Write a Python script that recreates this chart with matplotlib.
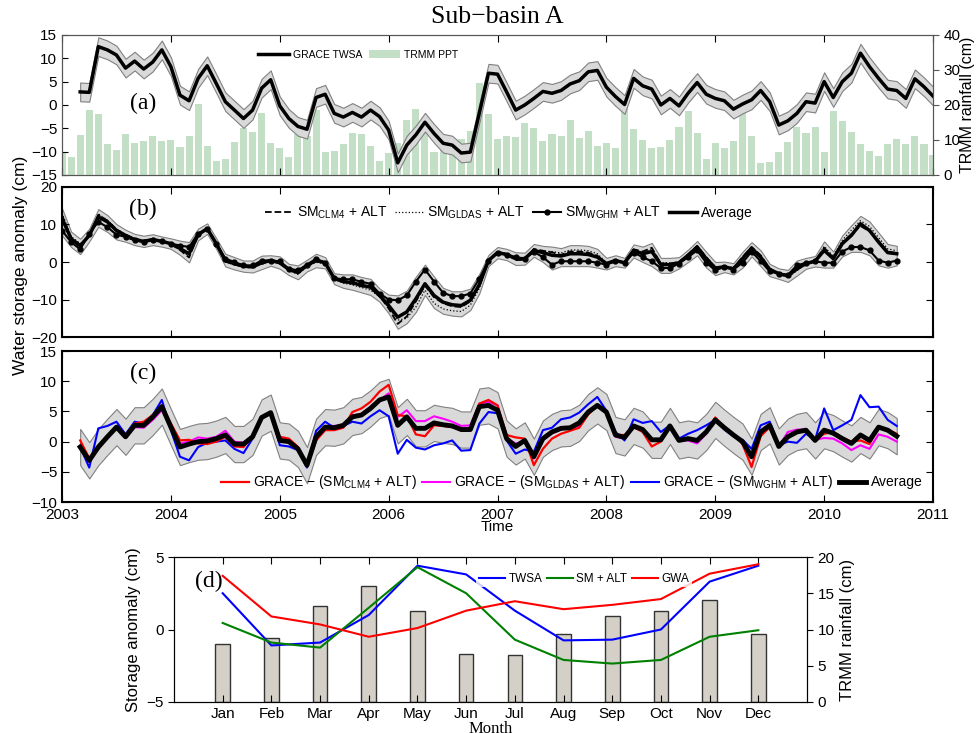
import numpy as np
import matplotlib.pyplot as plt

plt.rcParams['font.family'] = ['Liberation Sans', 'DejaVu Sans']
plt.rcParams['mathtext.fontset'] = 'custom'
plt.rcParams['mathtext.rm'] = 'Liberation Sans'
plt.rcParams['mathtext.it'] = 'Liberation Sans:italic'
plt.rcParams['mathtext.bf'] = 'Liberation Sans:bold'
plt.rcParams['xtick.direction'] = 'in'
plt.rcParams['ytick.direction'] = 'in'
plt.rcParams['xtick.labelsize'] = 11
plt.rcParams['ytick.labelsize'] = 11

SERIF = 'Liberation Serif'

# ---------------- data ----------------
# month index 0 = Jan 2003
grace_start = 2
grace_twsa = [
    2.8, 2.7, 12.5, 11.8, 10.7, 7.9, 9.4, 7.7, 9.2, 11.8,
    8.2, 2.1, 0.9, 5.7, 8.4, 4.6, 0.7, -1.1, -2.9, -1.1,
    3.6, 5.4, -0.2, -2.9, -4.6, -5.2, 1.6, 2.3, -1.8, -2.6,
    -1.6, -2.6, -1.1, -2.5, -5.4, -12.4, -8.6, -6.4, -3.7, -6.1,
    -8.2, -8.6, -10.3, -10.1, -1.7, 6.8, 6.6, 2.8, -1.1, 0.0,
    1.4, 2.9, 2.5, 3.1, 4.5, 5.2, 7.1, 7.4, 3.8, 1.8,
    0.1, 5.7, 4.1, 3.4, 0.0, 1.4, -0.2, 2.5, 4.8, 2.3,
    1.4, 0.9, -0.9, 0.2, 1.1, 3.1, 0.7, -4.3, -3.4, -1.8,
    0.7, 0.4, 5.0, 1.6, 5.0, 6.8, 11.1, 8.2, 5.7, 3.4,
    3.1, 1.4, 5.6, 3.9, 1.9]
grace_err = 2.0

trmm_start = 0
trmm_ppt = [
    6.4, 5.2, 11.4, 18.6, 17.3, 8.9, 7.1, 11.7, 9.0, 9.7,
    11.1, 9.7, 10.0, 8.0, 11.0, 20.3, 8.4, 4.0, 4.5, 9.5,
    13.5, 12.2, 17.7, 9.2, 7.7, 5.2, 11.6, 11.0, 18.6, 6.7,
    6.9, 8.9, 12.1, 11.7, 8.4, 4.0, 6.2, 9.0, 15.7, 18.8,
    14.0, 6.6, 7.6, 8.0, 10.2, 12.6, 26.4, 17.4, 10.3, 11.0,
    10.8, 14.8, 13.5, 9.7, 11.7, 11.0, 15.7, 10.7, 12.6, 8.4,
    9.0, 7.7, 19.7, 13.1, 10.0, 7.8, 7.9, 10.0, 13.7, 18.3,
    12.1, 4.7, 9.0, 7.8, 9.7, 17.6, 11.0, 3.3, 3.7, 6.5,
    9.4, 13.7, 12.0, 13.8, 6.6, 18.3, 15.5, 12.2, 8.9, 6.9,
    5.4, 8.8, 10.2, 8.9, 11.1, 8.9, 5.7]

sm_start = 0
sm_clm4 = [
    12.5, 6.5, 4.6, 6.9, 12.6, 11.0, 8.7, 7.2, 6.2, 5.7,
    6.1, 5.5, 4.8, 3.2, 1.2, 7.2, 9.0, 4.8, 0.1, -0.7,
    -1.3, -1.5, -0.3, 0.5, -0.3, -2.0, -2.9, -0.8, 0.4, 0.0,
    -4.4, -5.4, -5.8, -6.5, -6.8, -9.0, -12.4, -16.5, -14.5, -10.5,
    -6.3, -9.4, -11.0, -11.8, -12.0, -10.5, -6.3, 0.6, 2.7, 2.2,
    0.5, 0.6, 3.5, 3.0, 2.6, 1.9, 2.8, 2.8, 2.5, 1.7,
    -0.3, 0.5, -0.2, 3.4, 2.8, 3.8, -0.4, -0.4, 0.0, 2.0,
    4.3, 1.3, -1.4, -1.2, -1.6, 1.3, 4.0, 1.8, -1.8, -3.0,
    -3.6, -2.1, -0.5, 0.3, 3.8, 1.2, 5.2, 7.4, 9.6, 8.2,
    5.6, 2.8, 2.4]
sm_gldas = [
    13.0, 6.8, 4.9, 6.8, 12.8, 11.2, 8.8, 7.3, 6.0, 5.5,
    6.0, 5.4, 5.0, 3.4, 1.5, 7.1, 8.8, 5.0, 0.2, -0.5,
    -1.1, -1.5, -0.6, 0.3, -0.5, -2.2, -3.3, -1.2, -0.1, -0.4,
    -4.6, -5.6, -6.1, -6.8, -7.5, -9.3, -12.2, -15.5, -15.0, -12.0,
    -7.5, -11.0, -12.5, -13.0, -13.2, -11.5, -7.0, 0.2, 2.3, 1.8,
    1.0, 1.2, 3.0, 2.8, 2.8, 2.4, 3.2, 3.2, 3.0, 2.2,
    -0.2, 0.5, -0.2, 3.3, 2.4, 3.5, -0.2, -0.2, -0.2, 2.0,
    4.3, 1.4, -1.3, -1.4, -1.8, 1.4, 4.0, 1.6, -1.8, -3.2,
    -4.0, -2.3, -0.5, 0.1, 4.2, 1.5, 5.8, 8.5, 11.0, 9.5,
    6.5, 3.5, 3.0]
sm_wghm = [
    8.4, 5.3, 3.4, 7.6, 10.7, 9.3, 7.3, 6.7, 5.8, 5.3,
    5.8, 5.5, 4.9, 4.4, 4.0, 7.6, 8.9, 4.9, 0.9, 0.0,
    -0.9, -0.9, 0.4, 0.4, 0.2, -1.8, -2.2, -0.7, 0.9, -0.2,
    -4.3, -4.6, -4.6, -5.3, -5.8, -8.4, -10.0, -10.2, -8.9, -5.2,
    -2.0, -5.2, -8.2, -9.1, -9.1, -8.4, -4.4, 0.4, 2.5, 2.0,
    1.3, 0.9, 2.7, 1.3, -0.7, 0.2, 0.2, 0.2, 0.2, -0.2,
    -0.7, 0.2, -0.2, 2.5, 1.3, 0.2, -1.6, -1.6, -0.4, 1.3,
    3.1, -0.2, -2.2, -1.3, -2.0, -0.2, 2.8, 0.2, -2.5, -3.1,
    -3.4, -0.9, -0.2, 0.2, -0.2, -0.2, 2.8, 4.0, 4.0, 3.1,
    0.4, -0.2, 0.4]
sm_avg = [
    11.6, 6.2, 4.3, 7.1, 12.0, 10.7, 8.4, 7.1, 6.0, 5.5,
    6.0, 5.5, 4.9, 3.6, 2.2, 7.3, 8.9, 4.9, 0.4, -0.4,
    -1.1, -1.3, -0.2, 0.4, -0.2, -2.0, -2.8, -0.9, 0.4, -0.2,
    -4.4, -5.2, -5.5, -6.2, -6.7, -8.9, -11.6, -14.7, -13.3, -9.8,
    -5.8, -8.9, -10.7, -11.4, -11.6, -10.2, -6.0, 0.4, 2.5, 2.0,
    0.9, 0.9, 3.1, 2.5, 1.8, 1.6, 2.2, 2.2, 2.0, 1.3,
    -0.4, 0.4, -0.2, 3.1, 2.2, 2.8, -0.7, -0.7, -0.2, 1.8,
    4.0, 0.9, -1.6, -1.3, -1.8, 0.9, 3.7, 1.3, -2.0, -3.1,
    -3.7, -1.8, -0.4, 0.2, 3.1, 0.9, 4.9, 7.1, 10.2, 8.4,
    5.3, 2.5, 2.2]

gw_start = 2
gw_clm4 = [
    0.2, -2.8, -1.2, 0.8, 2.6, 0.9, 3.0, 3.3, 4.4, 6.0,
    3.0, 0.2, 0.3, -0.3, -0.4, 0.0, 0.8, -0.8, -0.9, 0.9,
    4.0, 4.8, 0.8, 0.5, -0.9, -4.1, 0.2, 1.9, 1.9, 2.3,
    4.9, 5.5, 6.6, 8.3, 9.4, 4.4, 4.2, 1.2, 0.9, 2.7,
    2.6, 2.4, 2.0, 2.3, 6.3, 6.9, 6.0, 1.1, 0.7, 0.5,
    -3.9, -1.2, 0.5, 1.3, 1.8, 2.3, 4.5, 6.0, 5.1, 1.1,
    1.1, 2.4, 1.6, -0.8, 0.0, 2.7, 0.3, 0.5, 0.1, 1.6,
    4.0, 2.3, 1.2, -0.4, -4.2, 0.9, 2.4, -0.8, 0.8, 1.8,
    1.9, 0.3, 1.3, 1.6, 0.7, 0.0, 0.2, -0.4, 2.4, 2.0,
    1.3]
gw_gldas = [
    -0.6, -3.4, -0.9, 0.5, 2.3, 0.7, 2.4, 2.3, 3.6, 5.2,
    2.7, -0.3, 0.0, 0.7, 0.5, 0.8, 1.8, 0.0, -0.2, 0.8,
    3.8, 4.7, 0.5, 0.2, -0.9, -3.6, 0.9, 2.6, 2.6, 2.7,
    4.4, 4.5, 5.8, 6.9, 8.0, 4.1, 5.2, 3.4, 3.4, 4.2,
    3.8, 3.3, 2.6, 2.7, 6.3, 6.6, 6.0, 0.5, -0.3, 0.0,
    -2.8, 0.2, 1.4, 2.0, 2.3, 2.6, 4.8, 5.9, 4.9, 0.8,
    0.5, 2.3, 1.9, 0.2, 0.2, 2.6, 0.1, 0.2, -0.3, 1.3,
    3.6, 2.2, 0.9, 0.0, -2.4, 1.6, 2.7, -0.8, 1.6, 2.0,
    2.0, 0.3, 0.6, 0.5, -0.3, -1.4, -0.6, -1.2, 1.2, 0.8,
    0.0]
gw_wghm = [
    -0.9, -4.3, 2.2, 2.6, 3.3, 1.2, 3.3, 3.0, 4.4, 6.9,
    1.9, -2.5, -3.1, -0.9, -0.2, 0.0, 0.2, -1.2, -1.9, 0.5,
    4.0, 4.8, -0.6, -0.8, -1.4, -4.3, 1.8, 3.3, 2.3, 2.6,
    3.3, 3.0, 4.2, 5.2, 4.2, -2.0, 0.3, -1.0, -1.3, -0.6,
    -0.3, 0.2, -1.5, -1.4, 3.0, 4.9, 4.7, 0.2, -2.0, -1.3,
    -1.7, 1.9, 2.3, 3.7, 4.0, 4.8, 6.2, 7.4, 5.1, 1.6,
    0.2, 3.7, 3.1, 3.4, 1.6, 2.7, 0.5, 1.3, 1.9, 2.7,
    3.6, 2.0, 0.9, 0.3, -1.2, 2.7, 3.3, -0.6, 0.0, -0.2,
    1.3, 0.3, 5.5, 1.9, 2.7, 3.6, 7.7, 5.7, 5.8, 3.6,
    2.6]
gw_avg = [
    -0.9, -3.1, -0.9, 0.8, 2.4, 0.8, 2.7, 2.7, 4.1, 5.8,
    2.4, -0.9, -0.4, 0.0, 0.1, 0.5, 1.1, -0.4, -0.4, 0.8,
    4.0, 4.8, 0.2, 0.0, -1.2, -3.9, 0.8, 2.4, 2.3, 2.7,
    4.1, 4.4, 5.5, 6.9, 7.4, 2.7, 4.1, 2.2, 2.2, 3.1,
    2.8, 2.6, 2.0, 2.0, 5.8, 6.0, 5.2, 0.5, -0.8, 0.2,
    -2.5, 0.5, 1.6, 2.2, 2.3, 3.1, 4.9, 6.0, 4.9, 1.1,
    0.7, 2.6, 2.0, 0.3, 0.3, 2.6, 0.2, 0.5, 0.2, 1.6,
    3.6, 2.3, 1.1, 0.0, -2.5, 1.6, 2.7, -0.8, 0.8, 1.6,
    1.9, 0.2, 1.9, 1.4, 0.5, -0.3, 1.1, 0.2, 2.4, 1.9,
    0.9]
gw_err = 3.0

months = ['Jan', 'Feb', 'Mar', 'Apr', 'May', 'Jun',
          'Jul', 'Aug', 'Sep', 'Oct', 'Nov', 'Dec']
clim_twsa = [2.5, -1.1, -0.9, 1.0, 4.4, 3.8, 1.3, -0.75, -0.7, 0.0, 3.3, 4.4]
clim_sm_alt = [0.45, -0.9, -1.25, 1.5, 4.3, 2.5, -0.7, -2.1, -2.35, -2.1, -0.5, -0.05]
clim_gwa = [3.7, 0.9, 0.35, -0.5, 0.1, 1.3, 1.95, 1.4, 1.7, 2.1, 3.85, 4.5]
clim_trmm = [7.95, 8.8, 13.3, 16.0, 12.55, 6.6, 6.5, 9.4, 11.8, 12.5, 14.1, 9.4]


def to_time(start, values):
    return 2003 + (start + np.arange(len(values))) / 12.0


years = np.arange(2003, 2012)
band_face = '#d9d9d9'
band_edge = '#808080'

fig = plt.figure(figsize=(9.77, 7.33), dpi=100)
ax_a = fig.add_axes([0.0635, 0.7613, 0.8915, 0.191])
ax_b = fig.add_axes([0.0635, 0.5402, 0.8915, 0.2047])
ax_c = fig.add_axes([0.0635, 0.3151, 0.8915, 0.206])
ax_d = fig.add_axes([0.1781, 0.0423, 0.6479, 0.1978])

# ---------------- (a) ----------------
ax_a2 = ax_a.twinx()
t_tr = to_time(trmm_start, trmm_ppt)
bars = ax_a2.bar(t_tr, trmm_ppt, width=0.78 / 12, color='#c3e0c6',
                 edgecolor='none', label='TRMM PPT')
ax_a2.set_ylim(0, 40)
ax_a2.set_yticks([0, 10, 20, 30, 40])
ax_a2.tick_params(axis='y', direction='out', length=4, color='#555555')
ax_a2.set_ylabel('TRMM rainfall (cm)', fontsize=11.5, labelpad=0)
ax_a.set_zorder(ax_a2.get_zorder() + 1)
ax_a.patch.set_visible(False)

t_g = to_time(grace_start, grace_twsa)
g = np.array(grace_twsa)
ax_a.fill_between(t_g, g - grace_err, g + grace_err, facecolor=band_face,
                  edgecolor=band_edge, lw=0.8)
line_g, = ax_a.plot(t_g, g, color='k', lw=2.5, label='GRACE TWSA')
ax_a.set_ylim(-15, 15)
ax_a.set_yticks([-15, -10, -5, 0, 5, 10, 15])
ax_a.set_xlim(2003, 2011)
ax_a.set_xticks(years)
ax_a.set_xticklabels([])
ax_a.tick_params(axis='x', top=True, length=5)
ax_a.tick_params(axis='y', length=4)
for ax in (ax_a, ax_a2):
    for s in ax.spines.values():
        s.set_color('#555555')
        s.set_linewidth(0.8)
ax_a.legend([line_g, bars], ['GRACE TWSA', 'TRMM PPT'], loc='center',
            bbox_to_anchor=(0.34, 0.86), ncol=2, fontsize=7.5, frameon=False,
            handlelength=3, columnspacing=0.6, handletextpad=0.4)
ax_a.text(0.093, 0.514, '(a)', transform=ax_a.transAxes, family=SERIF,
          fontsize=17, ha='center', va='center')

# ---------------- (b) ----------------
t_s = to_time(sm_start, sm_avg)
all_sm = np.array([sm_clm4, sm_gldas, sm_wghm, sm_avg])
ax_b.fill_between(t_s, all_sm.min(axis=0) - 1.3, all_sm.max(axis=0) + 1.3,
                  facecolor=band_face, edgecolor=band_edge, lw=0.8)
ax_b.plot(t_s, sm_clm4, 'k--', lw=1.3, label=r'SM$_{\mathrm{CLM4}}$ + ALT')
ax_b.plot(t_s, sm_gldas, 'k:', lw=0.9, label=r'SM$_{\mathrm{GLDAS}}$ + ALT')
ax_b.plot(t_s, sm_wghm, 'k-', lw=1.5, marker='.', ms=7,
          label=r'SM$_{\mathrm{WGHM}}$ + ALT')
ax_b.plot(t_s, sm_avg, 'k-', lw=2.5, label='Average')
ax_b.set_ylim(-20, 20)
ax_b.set_yticks([-20, -10, 0, 10, 20])
ax_b.set_xlim(2003, 2011)
ax_b.set_xticks(years)
ax_b.set_xticklabels([])
ax_b.tick_params(axis='x', top=True, length=5)
ax_b.tick_params(axis='y', right=True, length=5)
for s in ax_b.spines.values():
    s.set_linewidth(1.5)
ax_b.legend(loc='center', bbox_to_anchor=(0.513, 0.825), ncol=4, fontsize=10,
            frameon=False, handlelength=2.0, columnspacing=0.6,
            handletextpad=0.3)
ax_b.text(0.093, 0.85, '(b)', transform=ax_b.transAxes, family=SERIF,
          fontsize=17, ha='center', va='center')

# ---------------- (c) ----------------
t_c = to_time(gw_start, gw_avg)
avg_c = np.array(gw_avg)
ax_c.fill_between(t_c, avg_c - gw_err, avg_c + gw_err, facecolor=band_face,
                  edgecolor=band_edge, lw=0.8)
h_mag, = ax_c.plot(t_c, gw_gldas, color='#ff00ff', lw=1.5)
h_blue, = ax_c.plot(t_c, gw_wghm, color='#0000ff', lw=1.5)
h_red, = ax_c.plot(t_c, gw_clm4, color='#ff0000', lw=1.6)
h_avg, = ax_c.plot(t_c, gw_avg, color='k', lw=3.5)
ax_c.set_ylim(-10, 15)
ax_c.set_yticks([-10, -5, 0, 5, 10, 15])
ax_c.set_xlim(2003, 2011)
ax_c.set_xticks(years)
ax_c.tick_params(axis='x', top=True, length=5, pad=4)
ax_c.tick_params(axis='y', right=True, length=5)
for s in ax_c.spines.values():
    s.set_linewidth(1.5)
ax_c.set_xlabel('Time', fontsize=11, labelpad=-1)
ax_c.legend([h_red, h_mag, h_blue, h_avg],
            [r'GRACE $-$ (SM$_{\mathrm{CLM4}}$ + ALT)',
             r'GRACE $-$ (SM$_{\mathrm{GLDAS}}$ + ALT)',
             r'GRACE $-$ (SM$_{\mathrm{WGHM}}$ + ALT)', 'Average'],
            loc='center', bbox_to_anchor=(0.585, 0.13), ncol=4, fontsize=10,
            frameon=False, handlelength=2.0, columnspacing=0.4,
            handletextpad=0.3)
ax_c.text(0.093, 0.854, '(c)', transform=ax_c.transAxes, family=SERIF,
          fontsize=17, ha='center', va='center')

# ---------------- (d) ----------------
x_m = np.arange(1, 13)
ax_d2 = ax_d.twinx()
ax_d2.bar(x_m, clim_trmm, width=0.3, color='#d4d0c8', edgecolor='#333333',
          lw=1.0)
ax_d2.set_ylim(0, 20)
ax_d2.set_yticks([0, 5, 10, 15, 20])
ax_d2.tick_params(axis='y', direction='out', length=4)
ax_d2.set_ylabel('TRMM rainfall (cm)', fontsize=12, labelpad=4)
ax_d.set_zorder(ax_d2.get_zorder() + 1)
ax_d.patch.set_visible(False)

ax_d.plot(x_m, clim_twsa, color='#0000ff', lw=1.5, label='TWSA')
ax_d.plot(x_m, clim_sm_alt, color='#008000', lw=1.5, label='SM + ALT')
ax_d.plot(x_m, clim_gwa, color='#ff0000', lw=1.5, label='GWA')
ax_d.set_xlim(0, 13)
ax_d.set_ylim(-5, 5)
ax_d.set_yticks([-5, 0, 5])
ax_d.set_xticks(x_m)
ax_d.set_xticklabels(months)
ax_d.tick_params(axis='x', top=True, length=5)
ax_d.tick_params(axis='y', direction='out', length=4)
ax_d.set_ylabel('Storage anomaly (cm)', fontsize=12, labelpad=4)
ax_d.set_xlabel('Month', family=SERIF, fontsize=12, labelpad=0)
leg = ax_d.legend(loc='center', bbox_to_anchor=(0.648, 0.85), ncol=3,
                  fontsize=8.5, frameon=True, fancybox=False,
                  handlelength=2.2, columnspacing=0.4, handletextpad=0.3,
                  borderpad=0.2)
leg.get_frame().set_facecolor('white')
leg.get_frame().set_edgecolor('none')
ax_d.text(0.055, 0.834, '(d)', transform=ax_d.transAxes, family=SERIF,
          fontsize=17, ha='center', va='center')

# ---------------- figure texts ----------------
fig.text(0.509, 0.977, 'Sub\u2212basin A', family=SERIF, fontsize=18.5,
         ha='center', va='center')
fig.text(0.0205, 0.638, 'Water storage anomaly (cm)', rotation=90,
         fontsize=12.5, ha='center', va='center')

fig.savefig('out.png', dpi=100)
